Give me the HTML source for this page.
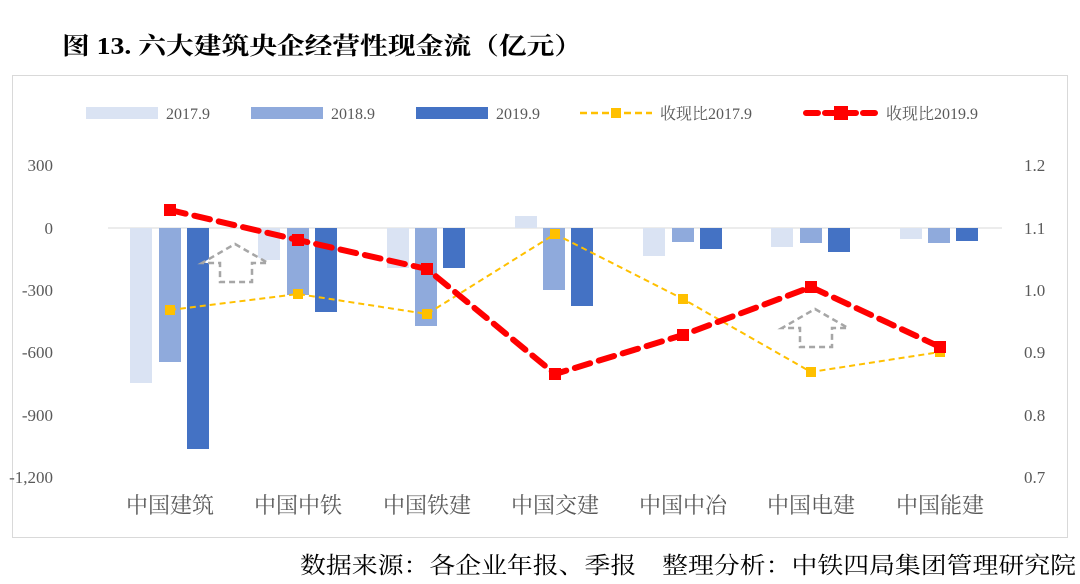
<!DOCTYPE html>
<html><head><meta charset="utf-8"><style>
body{margin:0;background:#fff;width:1080px;height:584px;overflow:hidden}
svg{display:block}
text{font-family:"Liberation Serif","Noto Serif CJK SC",serif}
</style></head><body>
<svg width="1080" height="584" viewBox="0 0 1080 584">
<text x="62" y="54" font-size="24" font-weight="bold" fill="#000" textLength="520" lengthAdjust="spacingAndGlyphs">图 13. 六大建筑央企经营性现金流（亿元）</text>
<rect x="12.5" y="75.5" width="1055" height="462" fill="#fff" stroke="#d9d9d9"/>
<!-- legend -->
<rect x="86" y="107" width="72" height="12" fill="#dae3f3"/>
<text x="166" y="119" font-size="16" fill="#595959">2017.9</text>
<rect x="251" y="107" width="72" height="12" fill="#8faadc"/>
<text x="331" y="119" font-size="16" fill="#595959">2018.9</text>
<rect x="416" y="107" width="72" height="12" fill="#4472c4"/>
<text x="496" y="119" font-size="16" fill="#595959">2019.9</text>
<line x1="580" y1="113" x2="652" y2="113" stroke="#ffc000" stroke-width="2.5" stroke-dasharray="7,4"/>
<rect x="611" y="108" width="10" height="10" fill="#ffc000"/>
<text x="660" y="119" font-size="16" fill="#595959" font-family="Liberation Sans,Noto Sans CJK SC,sans-serif">收现比2017.9</text>
<line x1="806" y1="113" x2="876" y2="113" stroke="#ff0000" stroke-width="6" stroke-dasharray="12,7" stroke-linecap="round"/>
<rect x="834" y="106" width="14" height="14" fill="#ff0000"/>
<text x="886" y="119" font-size="16" fill="#595959" font-family="Liberation Sans,Noto Sans CJK SC,sans-serif">收现比2019.9</text>
<!-- axes labels -->
<g font-size="17" fill="#595959" text-anchor="end">
<text x="53" y="171">300</text><text x="53" y="234">0</text><text x="53" y="296">-300</text>
<text x="53" y="358">-600</text><text x="53" y="421">-900</text><text x="53" y="483">-1,200</text>
</g>
<g font-size="17" fill="#595959">
<text x="1024" y="171">1.2</text><text x="1024" y="234">1.1</text><text x="1024" y="296">1.0</text>
<text x="1024" y="358">0.9</text><text x="1024" y="421">0.8</text><text x="1024" y="483">0.7</text>
</g>
<line x1="108" y1="228" x2="1002" y2="228" stroke="#d9d9d9"/>
<!-- bars -->
<g fill="#dae3f3">
<rect x="130" y="228" width="22" height="155"/>
<rect x="258" y="228" width="22" height="32"/>
<rect x="387" y="228" width="22" height="40"/>
<rect x="515" y="216" width="22" height="12"/>
<rect x="643" y="228" width="22" height="28"/>
<rect x="771" y="228" width="22" height="19"/>
<rect x="900" y="228" width="22" height="11"/>
</g>
<g fill="#8faadc">
<rect x="159" y="228" width="22" height="134"/>
<rect x="287" y="228" width="22" height="67"/>
<rect x="415" y="228" width="22" height="98"/>
<rect x="543" y="228" width="22" height="62"/>
<rect x="672" y="228" width="22" height="14"/>
<rect x="800" y="228" width="22" height="15"/>
<rect x="928" y="228" width="22" height="15"/>
</g>
<g fill="#4472c4">
<rect x="187" y="228" width="22" height="221"/>
<rect x="315" y="228" width="22" height="84"/>
<rect x="443" y="228" width="22" height="40"/>
<rect x="571" y="228" width="22" height="78"/>
<rect x="700" y="228" width="22" height="21"/>
<rect x="828" y="228" width="22" height="24"/>
<rect x="956" y="228" width="22" height="13"/>
</g>
<!-- arrows -->
<g fill="#fff" stroke="#a6a6a6" stroke-width="2.5" stroke-dasharray="6,4">
<path d="M235,244 L268,263 L252,263 L252,282 L220,282 L220,263 L202,263 Z"/>
<path d="M815,309 L848,328 L832,328 L832,347 L800,347 L800,328 L782,328 Z"/>
</g>
<!-- yellow line -->
<polyline points="170,310 298,294 427,314 555,234 683,299 811,372 940,352" fill="none" stroke="#ffc000" stroke-width="2" stroke-dasharray="6,4"/>
<g fill="#ffc000">
<rect x="165" y="305" width="10" height="10"/><rect x="293" y="289" width="10" height="10"/>
<rect x="422" y="309" width="10" height="10"/><rect x="550" y="229" width="10" height="10"/>
<rect x="678" y="294" width="10" height="10"/><rect x="806" y="367" width="10" height="10"/>
<rect x="935" y="347" width="10" height="10"/>
</g>
<!-- red line -->
<polyline points="170,210 298,240 427,269 555,374 683,335 811,287 940,347" fill="none" stroke="#ff0000" stroke-width="6" stroke-dasharray="16,9" stroke-linecap="round"/>
<g fill="#ff0000">
<rect x="164" y="204" width="12" height="12"/><rect x="292" y="234" width="12" height="12"/>
<rect x="421" y="263" width="12" height="12"/><rect x="549" y="368" width="12" height="12"/>
<rect x="677" y="329" width="12" height="12"/><rect x="805" y="281" width="12" height="12"/>
<rect x="934" y="341" width="12" height="12"/>
</g>
<!-- categories -->
<g font-size="22" fill="#595959" text-anchor="middle" font-family="Liberation Sans,Noto Sans CJK SC,sans-serif">
<text x="170" y="513">中国建筑</text><text x="298" y="513">中国中铁</text><text x="427" y="513">中国铁建</text>
<text x="555" y="513">中国交建</text><text x="683" y="513">中国中冶</text><text x="811" y="513">中国电建</text>
<text x="940" y="513">中国能建</text>
</g>
<text x="300" y="573" font-size="23" fill="#000" textLength="776" lengthAdjust="spacingAndGlyphs" font-family="Liberation Serif,Noto Serif CJK SC,serif">数据来源：各企业年报、季报　整理分析：中铁四局集团管理研究院</text>
</svg>
</body></html>
